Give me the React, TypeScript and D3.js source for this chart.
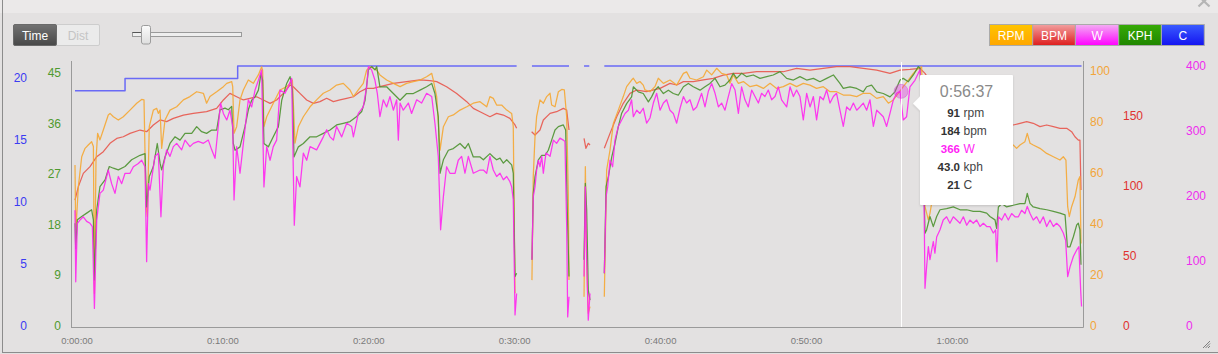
import React from 'react';
import * as d3 from 'd3';

type P = [number, number | null];

// ---- data (time in minutes) ----
const X_TICKS = [0, 10, 20, 30, 40, 50, 60];
const C_TICKS = [0, 5, 10, 15, 20];
const KPH_TICKS = [0, 9, 18, 27, 36, 45];
const RPM_TICKS = [0, 20, 40, 60, 80, 100];
const BPM_TICKS = [0, 50, 100, 150];
const W_TICKS = [0, 100, 200, 300, 400];

const LEGEND_LABELS = ['RPM', 'BPM', 'W', 'KPH', 'C'];

const HOVER_TIME = 56.62;
const TOOLTIP_TITLE = '0:56:37';
const TOOLTIP_VALUES = ['91', '184', '366', '43.0', '21'];
const TOOLTIP_UNITS = ['rpm', 'bpm', 'W', 'kph', 'C'];

const TEMP: P[] = [[0,19],[3.43,20],[11.15,21],[30.27,21],[30.8,null],[31.32,21],[33.86,21],[34.4,null],[34.89,21],[35.25,21],[35.8,null],[36.28,21],[68.99,21]];

const RPM: P[] = [[0,63.2],[0.05,36.4],[0.23,54.7],[0.46,66.4],[0.69,69.7],[0.91,71.0],[1.14,72.3],[1.26,70.4],[1.33,12.8],[1.44,65.1],[1.55,75.6],[1.71,73.0],[1.94,76.9],[2.28,82.8],[2.40,83.4],[2.63,82.1],[2.97,80.8],[3.31,82.1],[3.77,84.7],[4.23,87.4],[4.57,88.9],[4.73,88.7],[4.87,46.8],[4.96,42.9],[5.09,78.2],[5.37,84.7],[5.60,85.4],[5.71,83.4],[5.83,84.7],[5.94,69.7],[6.17,80.8],[6.51,84.7],[6.97,86.0],[7.43,88.7],[7.88,90.0],[8.34,91.9],[8.80,91.3],[9.02,87.4],[9.25,90.0],[9.71,91.9],[10.17,93.9],[10.40,95.2],[10.74,95.9],[10.81,93.9],[10.90,75.6],[11.08,78.2],[11.31,88.7],[11.54,92.6],[11.88,96.5],[12.22,95.2],[12.57,98.5],[12.79,101.7],[12.86,100.4],[12.95,78.2],[13.14,82.1],[13.59,87.4],[14.05,92.6],[14.51,93.9],[14.74,95.2],[14.90,96.5],[15.08,71.7],[15.31,78.2],[15.65,82.1],[16.11,86.0],[16.56,88.7],[17.02,91.3],[17.48,92.6],[17.93,94.5],[18.39,95.2],[18.85,92.6],[19.08,90.0],[19.42,92.6],[19.76,95.2],[19.99,100.4],[20.22,101.7],[20.45,101.1],[20.68,100.4],[20.90,98.5],[21.36,96.5],[21.82,95.2],[22.28,93.9],[22.73,95.2],[23.19,95.9],[23.65,96.5],[24.10,97.8],[24.45,99.1],[24.56,96.5],[24.79,90.0],[25.02,69.0],[25.25,78.2],[25.59,82.1],[25.93,82.8],[26.39,84.7],[26.85,86.0],[27.30,87.4],[27.76,88.0],[28.22,86.0],[28.44,90.0],[28.67,89.3],[28.90,86.7],[29.24,86.7],[29.59,84.7],[29.93,83.4],[30.04,78.2],[30.16,12.8],[30.8,null],[31.32,18.0],[31.41,58.6],[31.53,74.3],[31.64,82.1],[31.87,88.7],[32.10,87.4],[32.33,90.0],[32.56,91.3],[32.67,86.7],[32.90,86.0],[33.13,91.9],[33.36,92.8],[33.54,92.6],[33.70,82.1],[33.81,52.0],[33.86,18.0],[34.4,null],[34.89,11.5],[34.98,62.5],[35.07,25.9],[35.18,5.0],[35.30,7.6],[35.8,null],[36.28,11.5],[36.44,61.2],[36.67,69.0],[36.90,79.5],[37.24,84.7],[37.58,90.0],[37.81,93.9],[38.15,96.5],[38.27,97.2],[38.50,95.2],[38.72,95.9],[38.95,94.5],[39.07,92.6],[39.41,91.9],[39.75,93.9],[39.98,97.2],[40.33,95.2],[40.78,96.5],[41.24,94.5],[41.70,99.1],[41.92,99.7],[42.15,97.2],[42.61,96.5],[43.07,97.8],[43.30,100.4],[43.64,98.5],[43.98,101.1],[44.32,99.1],[44.67,98.5],[44.89,95.2],[45.12,98.5],[45.47,95.2],[45.81,95.9],[46.27,93.9],[46.72,94.5],[47.18,93.2],[47.64,95.2],[48.09,93.2],[48.55,93.9],[49.01,95.2],[49.46,93.9],[49.92,95.2],[50.38,94.5],[50.83,93.2],[51.29,93.9],[51.75,91.9],[52.20,91.9],[52.66,90.6],[53.12,90.6],[53.58,90.0],[54.03,91.3],[54.49,91.3],[54.95,89.3],[55.40,90.0],[55.75,87.4],[56.09,88.7],[56.43,91.3],[56.77,93.9],[57.12,96.5],[57.46,99.1],[57.80,101.1],[58.03,101.7],[58.19,65.1],[58.26,46.8],[58.49,41.6],[58.60,44.2],[58.83,52.0],[59.51,65.1],[60.66,70.4],[61.80,69.0],[63.17,71.7],[64.31,71.0],[64.54,69.7],[64.77,71.0],[65.11,72.3],[65.27,75.6],[65.46,71.7],[65.68,71.0],[66.14,69.7],[66.60,67.7],[67.06,66.4],[67.51,65.1],[67.74,66.4],[67.92,65.1],[68.04,46.8],[68.15,42.9],[68.31,46.8],[68.54,50.7],[68.77,57.3],[68.88,58.6],[68.95,32.4]];

const BPM: P[] = [[0,90.1],[0.23,99.7],[0.57,109.2],[1.03,114.0],[1.49,121.1],[1.94,124.7],[2.40,130.7],[2.86,134.2],[3.31,135.4],[3.77,137.8],[4.46,140.2],[4.91,139.0],[5.37,143.8],[5.83,147.4],[6.28,146.2],[6.74,148.5],[7.43,150.9],[8.11,152.1],[9.02,153.3],[9.71,155.7],[10.17,161.7],[10.62,166.4],[11.08,164.0],[11.54,161.7],[11.99,162.9],[12.45,164.0],[12.91,161.7],[13.37,159.3],[13.82,161.7],[14.28,166.4],[14.74,172.4],[14.96,171.2],[15.42,166.4],[15.88,161.7],[16.34,159.3],[16.79,160.5],[17.25,162.9],[17.71,160.5],[18.16,161.7],[18.62,162.9],[19.08,164.0],[19.53,167.6],[19.99,170.0],[20.45,170.0],[20.90,171.2],[21.82,173.6],[22.73,174.8],[23.65,176.0],[24.33,175.5],[24.79,174.8],[25.47,171.2],[26.16,166.4],[26.85,160.5],[27.30,155.7],[27.76,153.3],[28.44,149.7],[28.90,152.1],[29.36,150.9],[29.81,148.5],[30.16,143.8],[30.27,141.4],[30.8,null],[31.30,139.0],[31.53,136.6],[31.87,140.2],[32.10,147.4],[32.56,152.1],[33.01,153.3],[33.47,155.7],[33.70,154.5],[33.86,140.2],[34.4,null],[34.89,134.2],[35.02,127.1],[35.18,130.7],[35.30,129.5],[35.8,null],[36.28,127.1],[36.67,137.8],[37.13,149.7],[37.58,159.3],[38.04,166.4],[38.50,168.8],[39.18,167.6],[40.10,170.0],[40.78,173.6],[41.24,172.4],[41.70,174.8],[42.38,174.8],[43.07,176.0],[43.75,177.2],[44.44,179.5],[45.12,180.7],[45.81,180.7],[46.72,181.9],[48.55,181.9],[49.46,184.3],[50.38,183.1],[51.29,184.3],[52.20,185.5],[53.12,185.5],[54.03,184.3],[54.95,183.1],[55.86,180.7],[56.55,183.1],[57.23,183.6],[57.92,184.3],[58.26,180.7],[59.29,164.0],[60.66,152.1],[62.26,146.2],[63.40,143.8],[64.31,143.8],[64.77,145.0],[65.23,146.2],[65.68,145.0],[66.14,142.6],[66.60,143.8],[67.06,142.6],[67.51,141.4],[67.97,141.4],[68.31,139.0],[68.54,135.4],[68.77,133.0],[68.88,133.0],[68.95,97.3]];

const KPH: P[] = [[0,18.3],[0.05,13.8],[0.16,18.9],[0.46,19.5],[0.80,20.1],[1.14,20.7],[1.26,18.9],[1.33,8.2],[1.49,20.7],[1.71,24.8],[2.06,26.0],[2.35,28.4],[2.63,28.1],[2.97,27.8],[3.43,28.4],[3.88,29.6],[4.46,30.4],[4.80,30.7],[4.91,21.2],[5.09,26.6],[5.37,28.4],[5.64,32.5],[5.83,29.0],[5.94,27.8],[6.17,30.1],[6.51,32.5],[6.85,33.7],[7.20,33.1],[7.54,34.3],[8.00,34.3],[8.34,35.5],[8.68,34.6],[9.02,34.3],[9.37,34.9],[9.71,34.9],[9.94,38.5],[10.28,38.8],[10.51,38.5],[10.74,39.1],[10.85,32.5],[10.97,31.3],[11.31,31.9],[11.65,35.5],[11.88,38.5],[12.11,40.2],[12.34,40.8],[12.57,42.0],[12.75,45.0],[12.86,43.8],[12.95,32.5],[13.25,31.9],[13.59,33.7],[13.94,35.5],[14.17,40.2],[14.51,43.2],[14.74,44.4],[14.90,42.0],[15.01,30.1],[15.31,31.9],[15.65,32.5],[16.11,33.7],[16.56,33.7],[17.02,34.3],[17.48,34.9],[17.93,35.8],[18.39,36.1],[18.85,36.4],[19.31,37.3],[19.65,38.2],[19.88,40.2],[20.11,45.6],[20.33,46.2],[20.56,45.6],[20.68,46.2],[20.90,42.6],[21.36,42.6],[21.82,41.4],[22.28,40.2],[22.73,41.4],[23.19,41.4],[23.65,42.0],[24.10,42.6],[24.45,43.2],[24.67,41.4],[24.90,37.3],[25.02,27.2],[25.25,29.6],[25.59,31.3],[25.93,31.6],[26.39,32.5],[26.73,31.6],[26.96,32.5],[27.30,30.1],[27.76,30.1],[27.99,29.6],[28.44,30.7],[28.67,30.1],[28.90,29.6],[29.13,29.9],[29.36,29.0],[29.59,29.6],[29.93,28.7],[30.04,27.2],[30.16,8.8],[30.27,9.4],[30.8,null],[31.32,11.8],[31.41,23.6],[31.53,26.6],[31.76,29.6],[31.99,30.4],[32.22,30.4],[32.44,31.3],[32.67,33.1],[32.90,34.9],[33.13,35.5],[33.47,35.8],[33.63,34.9],[33.74,20.7],[33.86,8.8],[34.4,null],[34.89,11.8],[34.98,25.4],[35.07,20.7],[35.18,6.4],[35.30,4.6],[35.8,null],[36.28,9.4],[36.40,24.8],[36.56,26.6],[36.79,30.1],[37.01,32.5],[37.24,35.5],[37.47,37.9],[37.81,39.6],[38.15,40.8],[38.27,42.6],[38.61,41.7],[38.95,41.4],[39.30,39.9],[39.52,40.8],[39.75,42.0],[39.98,42.6],[40.33,41.4],[40.67,42.0],[41.01,41.4],[41.35,41.1],[41.70,42.6],[42.04,43.2],[42.38,42.6],[42.84,42.0],[43.18,42.6],[43.52,43.2],[43.87,44.1],[44.21,42.6],[44.55,42.9],[44.89,43.8],[45.12,45.0],[45.35,44.1],[45.69,45.0],[46.04,44.4],[46.49,44.7],[46.95,44.1],[47.41,44.4],[47.86,44.7],[48.32,45.3],[48.78,44.1],[49.24,43.8],[49.69,44.4],[50.15,43.8],[50.61,44.1],[51.06,43.5],[51.52,44.1],[51.98,44.7],[52.43,43.2],[52.66,42.3],[53.12,42.6],[53.58,42.3],[54.03,41.7],[54.26,42.6],[54.60,42.9],[54.95,41.7],[55.40,41.4],[55.86,40.8],[56.20,41.7],[56.55,43.8],[56.77,44.1],[57.12,43.5],[57.46,44.7],[57.80,46.2],[57.92,45.9],[58.10,35.5],[58.26,16.5],[58.37,17.1],[58.60,19.5],[58.83,17.7],[59.06,19.5],[59.29,20.7],[59.74,20.9],[60.20,21.2],[60.66,20.7],[61.12,20.7],[61.57,20.4],[62.03,20.4],[62.49,20.1],[62.71,19.5],[63.06,18.9],[63.17,17.4],[63.29,21.2],[63.52,21.8],[63.86,21.2],[64.31,21.5],[64.77,21.8],[65.11,21.8],[65.27,23.6],[65.46,21.8],[65.68,21.2],[66.14,20.9],[66.60,20.7],[67.06,20.4],[67.51,20.1],[67.86,19.8],[68.02,14.1],[68.20,14.1],[68.43,15.9],[68.66,18.0],[68.77,18.3],[68.88,17.1],[68.95,10.9]];

const WATTS: P[] = [[0,178],[0.05,68],[0.16,158],[0.34,163],[0.57,168],[0.80,161],[1.03,158],[1.19,153],[1.33,27],[1.49,163],[1.71,204],[1.94,209],[2.28,240],[2.51,219],[2.74,204],[2.97,230],[3.20,219],[3.43,235],[3.77,235],[4.00,245],[4.34,250],[4.57,255],[4.80,245],[4.91,99],[5.03,219],[5.14,209],[5.48,261],[5.71,266],[5.89,168],[6.05,245],[6.28,271],[6.51,261],[6.74,276],[6.97,281],[7.31,271],[7.54,286],[7.88,276],[8.11,281],[8.45,284],[8.80,281],[9.14,286],[9.37,271],[9.60,258],[9.82,307],[9.98,343],[10.17,327],[10.40,317],[10.62,332],[10.81,307],[10.90,194],[11.08,276],[11.31,235],[11.54,281],[11.88,348],[12.11,337],[12.34,363],[12.57,378],[12.79,394],[12.95,214],[13.14,276],[13.37,255],[13.59,276],[13.82,286],[14.05,363],[14.39,358],[14.62,368],[14.85,381],[15.03,155],[15.19,230],[15.42,214],[15.65,266],[15.88,255],[16.11,276],[16.56,271],[17.02,291],[17.25,302],[17.48,291],[17.71,286],[17.93,307],[18.28,291],[18.62,312],[18.96,307],[19.08,291],[19.42,327],[19.76,337],[19.99,368],[20.11,399],[20.33,394],[20.56,378],[20.72,358],[20.90,322],[21.13,348],[21.36,337],[21.59,353],[21.82,332],[22.05,348],[22.16,286],[22.28,343],[22.50,332],[22.85,343],[23.07,327],[23.42,348],[23.76,343],[24.10,358],[24.45,353],[24.67,312],[24.90,261],[25.06,148],[25.25,199],[25.47,245],[25.70,235],[26.05,235],[26.27,255],[26.50,261],[26.73,235],[26.96,261],[27.30,235],[27.76,240],[27.99,240],[28.22,235],[28.44,261],[28.67,240],[28.90,230],[29.13,235],[29.36,225],[29.59,230],[29.81,222],[29.93,214],[30.04,194],[30.16,17],[30.27,50],[30.8,null],[31.32,102],[31.41,199],[31.53,214],[31.64,240],[31.76,255],[31.87,245],[31.99,261],[32.10,235],[32.28,266],[32.56,261],[32.79,286],[33.01,281],[33.24,289],[33.47,286],[33.58,284],[33.70,153],[33.77,14],[33.86,45],[34.4,null],[34.89,76],[34.98,214],[35.07,102],[35.18,9],[35.30,50],[35.8,null],[36.28,81],[36.40,199],[36.51,214],[36.67,255],[36.85,245],[37.01,286],[37.24,307],[37.47,317],[37.70,327],[37.93,332],[38.15,348],[38.27,322],[38.50,332],[38.72,327],[38.95,335],[39.18,312],[39.41,320],[39.64,343],[39.87,358],[40.10,332],[40.33,343],[40.55,348],[40.78,332],[41.01,327],[41.24,312],[41.47,335],[41.70,353],[41.92,343],[42.15,348],[42.38,332],[42.61,337],[42.95,358],[43.18,337],[43.41,361],[43.64,373],[43.87,358],[44.10,337],[44.32,343],[44.55,332],[44.78,353],[45.01,373],[45.24,363],[45.47,327],[45.69,368],[45.92,348],[46.15,337],[46.38,363],[46.61,353],[46.84,343],[47.06,358],[47.29,353],[47.52,363],[47.75,348],[47.98,353],[48.21,368],[48.43,348],[48.78,337],[49.01,368],[49.24,353],[49.46,363],[49.69,353],[49.92,317],[50.15,358],[50.38,337],[50.61,353],[50.83,317],[51.06,353],[51.29,348],[51.52,363],[51.75,343],[51.98,353],[52.20,358],[52.43,332],[52.66,307],[52.89,337],[53.12,332],[53.35,343],[53.58,332],[53.80,337],[54.03,343],[54.26,332],[54.49,348],[54.72,307],[54.95,332],[55.18,327],[55.40,322],[55.63,307],[55.86,327],[56.09,348],[56.32,358],[56.55,361],[56.77,317],[57.00,322],[57.23,368],[57.57,378],[57.80,389],[57.92,394],[58.05,332],[58.19,204],[58.26,58],[58.37,91],[58.49,122],[58.60,102],[58.72,117],[58.83,130],[58.94,112],[59.06,137],[59.29,148],[59.51,163],[59.74,168],[59.97,158],[60.20,168],[60.43,163],[60.66,158],[60.89,168],[61.12,155],[61.34,163],[61.57,158],[61.80,163],[62.03,153],[62.26,158],[62.49,153],[62.71,153],[62.94,143],[63.10,148],[63.19,99],[63.29,168],[63.52,163],[63.74,173],[63.97,163],[64.20,173],[64.43,168],[64.66,168],[64.88,178],[65.11,173],[65.27,184],[65.46,173],[65.68,163],[65.91,168],[66.14,158],[66.37,168],[66.60,153],[66.83,163],[67.06,153],[67.28,158],[67.51,153],[67.74,143],[67.90,132],[68.04,76],[68.20,91],[68.43,107],[68.66,117],[68.81,122],[68.93,55],[68.99,30]];

// ---- styles ----
const FONT = '"Liberation Sans", Arial, Helvetica, sans-serif';
const COL = { rpm: '#f5a733', bpm: '#e8574c', w: '#ff26f0', kph: '#4c9230', c: '#6a6af6' };
const LABEL_COL = { rpm: '#f2a53a', bpm: '#e0322f', w: '#ee2cee', kph: '#4f9a2f', c: '#3b3bf2' };
const LEGEND_GRAD = [
  ['#ffc400', '#ffa600'],
  ['#f2a0a0', '#de1c1c'],
  ['#f3aef3', '#ff00ff'],
  ['#36aa06', '#208600'],
  ['#3a5cff', '#1414f0'],
];

function fmtTime(m: number) {
  const h = Math.floor(m / 60);
  const mm = Math.floor(m % 60);
  return `${h}:${String(mm).padStart(2, '0')}:00`;
}

export default function App() {
  const Y0 = 326, Y1 = 66;
  const x = d3.scaleLinear().domain([0, 69.09]).range([75, 1083]);
  const yC = d3.scaleLinear().domain([0, 21]).range([Y0, Y1]);
  const yK = d3.scaleLinear().domain([0, 46.3]).range([Y0, Y1]);
  const yR = d3.scaleLinear().domain([0, 102]).range([Y0, Y1]);
  const yB = d3.scaleLinear().domain([0, 186]).range([Y0, Y1]);
  const yW = d3.scaleLinear().domain([0, 400]).range([Y0, Y1]);

  const mk = (ys: d3.ScaleLinear<number, number>, curve?: d3.CurveFactory) => {
    const l = d3.line<P>().defined(d => d[1] != null).x(d => x(d[0])).y(d => ys(d[1] as number));
    if (curve) l.curve(curve);
    return l;
  };

  const hx = x(HOVER_TIME);
  const nearest = WATTS.filter(d => d[1] != null).reduce((a, b) => Math.abs(b[0] - HOVER_TIME) < Math.abs(a[0] - HOVER_TIME) ? b : a);
  const hy = yW(nearest[1] as number);

  const legendX = [989.5, 1032.7, 1075.4, 1118.7, 1161.4, 1204.3];

  return (
    <div style={{ position: 'absolute', left: 0, top: 0 }}>
      <svg width={1218} height={354} style={{ display: 'block', fontFamily: FONT }}>
        <defs>
          {LEGEND_GRAD.map((g, i) => (
            <linearGradient key={i} id={`lg${i}`} x1="0" y1="0" x2="0" y2="1">
              <stop offset="0" stopColor={g[0]} />
              <stop offset="1" stopColor={g[1]} />
            </linearGradient>
          ))}
          <linearGradient id="tbtn" x1="0" y1="0" x2="0" y2="1">
            <stop offset="0" stopColor="#727272" />
            <stop offset="1" stopColor="#484848" />
          </linearGradient>
          <linearGradient id="thumb" x1="0" y1="0" x2="0" y2="1">
            <stop offset="0" stopColor="#fbfbfb" />
            <stop offset="1" stopColor="#dedede" />
          </linearGradient>
          <filter id="tshadow" x="-10%" y="-10%" width="120%" height="130%">
            <feDropShadow dx="0" dy="1" stdDeviation="1.2" floodColor="#000" floodOpacity="0.15" />
          </filter>
        </defs>

        {/* background */}
        <rect x={0} y={0} width={1218} height={354} fill="#e3e1e1" />
        <rect x={0} y={0} width={1218} height={13} fill="#ebe9e9" />
        <line x1={2.5} y1={0} x2={2.5} y2={353} stroke="#8c8c8c" />
        <line x1={2} y1={352.5} x2={1218} y2={352.5} stroke="#8c8c8c" />

        {/* close X */}
        <g stroke="#b5b5b5" strokeWidth={2.2}>
          <line x1={1198.5} y1={-4} x2={1209.5} y2={6.5} />
          <line x1={1209.5} y1={-4} x2={1198.5} y2={6.5} />
        </g>

        {/* Time / Dist toggle */}
        <rect x={13.5} y={24.5} width={86} height={21} fill="#ebebeb" stroke="#cdcdcd" rx={1.5} />
        <rect x={13.5} y={24.5} width={43} height={21} fill="url(#tbtn)" stroke="#6a6a6a" rx={1.5} />
        <text x={35} y={39.5} textAnchor="middle" fontSize={12} fill="#ffffff">Time</text>
        <text x={78} y={39.5} textAnchor="middle" fontSize={12} fill="#c4c4c4">Dist</text>

        {/* slider */}
        <rect x={132.5} y={32.5} width={109} height={4} fill="#eeeeee" stroke="#9a9a9a" />
        <line x1={132.5} y1={32.5} x2={145} y2={32.5} stroke="#555" />
        <rect x={141.5} y={25.5} width={9} height={18.5} rx={2} fill="url(#thumb)" stroke="#9c9c9c" />

        {/* legend */}
        {LEGEND_LABELS.map((lab, i) => (
          <g key={lab}>
            <rect x={legendX[i]} y={24.5} width={legendX[i + 1] - legendX[i]} height={21} fill={`url(#lg${i})`} stroke="#aaaaaa" />
            <text x={(legendX[i] + legendX[i + 1]) / 2} y={39.5} textAnchor="middle" fontSize={12} fill="#ffffff">{lab}</text>
          </g>
        ))}

        {/* axes lines */}
        <g stroke="#9a9a9a" fill="none">
          <line x1={71.5} y1={61} x2={71.5} y2={327.5} />
          <line x1={71} y1={327.5} x2={1083.5} y2={327.5} />
          <line x1={1083.5} y1={61} x2={1083.5} y2={327.5} />
        </g>

        {/* left axes labels */}
        <g fontSize={12} dominantBaseline="central">
          {C_TICKS.map(t => <text key={'c' + t} x={27} y={yC(t)} textAnchor="end" fill={LABEL_COL.c}>{t}</text>)}
          {KPH_TICKS.map(t => <text key={'k' + t} x={61} y={yK(t)} textAnchor="end" fill={LABEL_COL.kph}>{t}</text>)}
          {RPM_TICKS.map(t => <text key={'r' + t} x={1090} y={yR(t)} textAnchor="start" fill={LABEL_COL.rpm}>{t}</text>)}
          {BPM_TICKS.map(t => <text key={'b' + t} x={1123} y={yB(t)} textAnchor="start" fill={LABEL_COL.bpm}>{t}</text>)}
          {W_TICKS.map(t => <text key={'w' + t} x={1186} y={yW(t)} textAnchor="start" fill={LABEL_COL.w}>{t}</text>)}
        </g>

        {/* x labels */}
        <g fontSize={9.5} fill="#7a7a7a">
          {X_TICKS.map(t => <text key={t} x={x(t) + 2} y={344} textAnchor="middle">{fmtTime(t)}</text>)}
        </g>

        {/* series */}
        <g fill="none" strokeWidth={1.25} strokeLinejoin="round">
          <path d={mk(yC, d3.curveStepAfter)(TEMP) || ''} stroke={COL.c} strokeWidth={1.5} />
          <path d={mk(yB)(BPM) || ''} stroke={COL.bpm} strokeOpacity={0.9} />
          <path d={mk(yR)(RPM) || ''} stroke={COL.rpm} strokeOpacity={0.9} />
          <path d={mk(yK)(KPH) || ''} stroke={COL.kph} strokeOpacity={0.9} />
          <path d={mk(yW)(WATTS) || ''} stroke={COL.w} strokeOpacity={0.9} />
        </g>

        {/* hover */}
        <line x1={Math.round(hx) + 0.5} y1={62} x2={Math.round(hx) + 0.5} y2={327} stroke="#ffffff" strokeWidth={1} />
        <circle cx={hx} cy={hy} r={7} fill="#e020e0" fillOpacity={0.35} stroke="#d040d0" strokeOpacity={0.4} />

        {/* tooltip */}
        <g filter="url(#tshadow)">
          <rect x={920} y={75} width={93} height={130} fill="#ffffff" rx={1} />
          <polygon points="913,103.5 920.5,96 920.5,111" fill="#ffffff" />
        </g>
        <text x={966.5} y={97} textAnchor="middle" fontSize={16} fill="#8a8a8a">{TOOLTIP_TITLE}</text>
        {TOOLTIP_VALUES.map((v, i) => {
          const isW = TOOLTIP_UNITS[i] === 'W';
          const yy = 117 + i * 18.1;
          return (
            <g key={i}>
              <text x={960} y={yy} textAnchor="end" fontSize={11.5} fontWeight="bold" fill={isW ? '#ff1ff5' : '#333333'}>{v}</text>
              <text x={963.5} y={yy} textAnchor="start" fontSize={12} fill={isW ? '#ff1ff5' : '#444444'}>{TOOLTIP_UNITS[i]}</text>
            </g>
          );
        })}

        {/* resize grip */}
        <g stroke="#666" strokeWidth={0.8}>
          <line x1={1203} y1={348} x2={1210} y2={341} />
          <line x1={1205.5} y1={348} x2={1210} y2={343.5} />
          <line x1={1208} y1={348} x2={1210} y2={346} />
        </g>
      </svg>
    </div>
  );
}
